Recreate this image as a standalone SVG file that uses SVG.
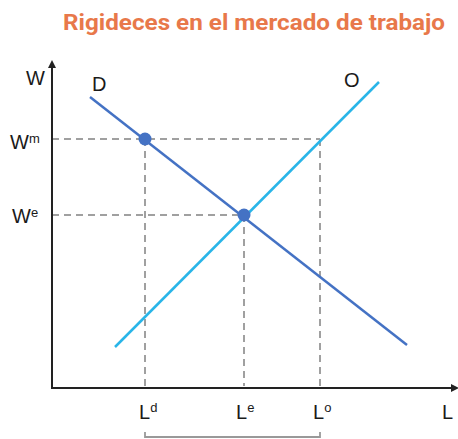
<svg xmlns="http://www.w3.org/2000/svg" width="458" height="439" viewBox="0 0 458 439">
<defs>
<style>
.lbl{font-family:"Liberation Sans",Arial,sans-serif;font-size:20px;fill:#1a1a1a}
.sup{font-size:13px}
.dash{stroke:#a0a0a0;stroke-width:2;stroke-dasharray:7,5;fill:none}
.axis{stroke:#222;stroke-width:2;fill:none}
</style>
<marker id="arr" viewBox="0 0 8 8" refX="4" refY="4" markerWidth="4" markerHeight="4" orient="auto"><path d="M0,0 L8,4 L0,8 z" fill="#222"/></marker>
</defs>
<rect width="458" height="439" fill="#fff"/>
<text x="254" y="30" text-anchor="middle" font-family="Roboto, 'Liberation Sans', sans-serif" font-weight="bold" font-size="22" fill="#E8784A" textLength="382" lengthAdjust="spacingAndGlyphs">Rigideces en el mercado de trabajo</text>
<g id="connectors">
<line class="dash" x1="52" y1="139" x2="320" y2="139"/>
<line class="dash" x1="52" y1="215" x2="244" y2="215"/>
<line class="dash" x1="145" y1="139" x2="145" y2="386"/>
<line class="dash" x1="244" y1="215" x2="244" y2="386"/>
<line class="dash" x1="320" y1="139" x2="320" y2="386"/>
</g>
<g id="axes">
<line class="axis" x1="52" y1="388" x2="52" y2="64" marker-end="url(#arr)"/>
<line class="axis" x1="51" y1="388" x2="455" y2="388" marker-end="url(#arr)"/>
</g>
<g id="curve-D"><line x1="90" y1="97" x2="407" y2="345" stroke="#4472C4" stroke-width="2.5"/></g>
<g id="curve-O"><line x1="115" y1="347" x2="379" y2="82" stroke="#29B5E8" stroke-width="2.5"/></g>
<g id="point-m"><circle cx="145" cy="139" r="6.5" fill="#4472C4"/></g>
<g id="point-e"><circle cx="244" cy="215" r="6.5" fill="#4472C4"/></g>
<g id="bracket"><path d="M145,432 L145,437 L320,437 L320,432" fill="none" stroke="#999" stroke-width="1.8"/></g>
<g id="labels">
<text class="lbl" x="26" y="85">W</text>
<text class="lbl" x="92" y="91">D</text>
<text class="lbl" x="344" y="87">O</text>
<text class="lbl" x="10" y="149">W<tspan class="sup" dy="-6">m</tspan></text>
<text class="lbl" x="12" y="223">W<tspan class="sup" dy="-6">e</tspan></text>
<text class="lbl" x="139" y="419">L<tspan class="sup" dy="-7">d</tspan></text>
<text class="lbl" x="236" y="419">L<tspan class="sup" dy="-7">e</tspan></text>
<text class="lbl" x="313" y="419">L<tspan class="sup" dy="-7">o</tspan></text>
<text class="lbl" x="442" y="419">L</text>
</g>
</svg>
